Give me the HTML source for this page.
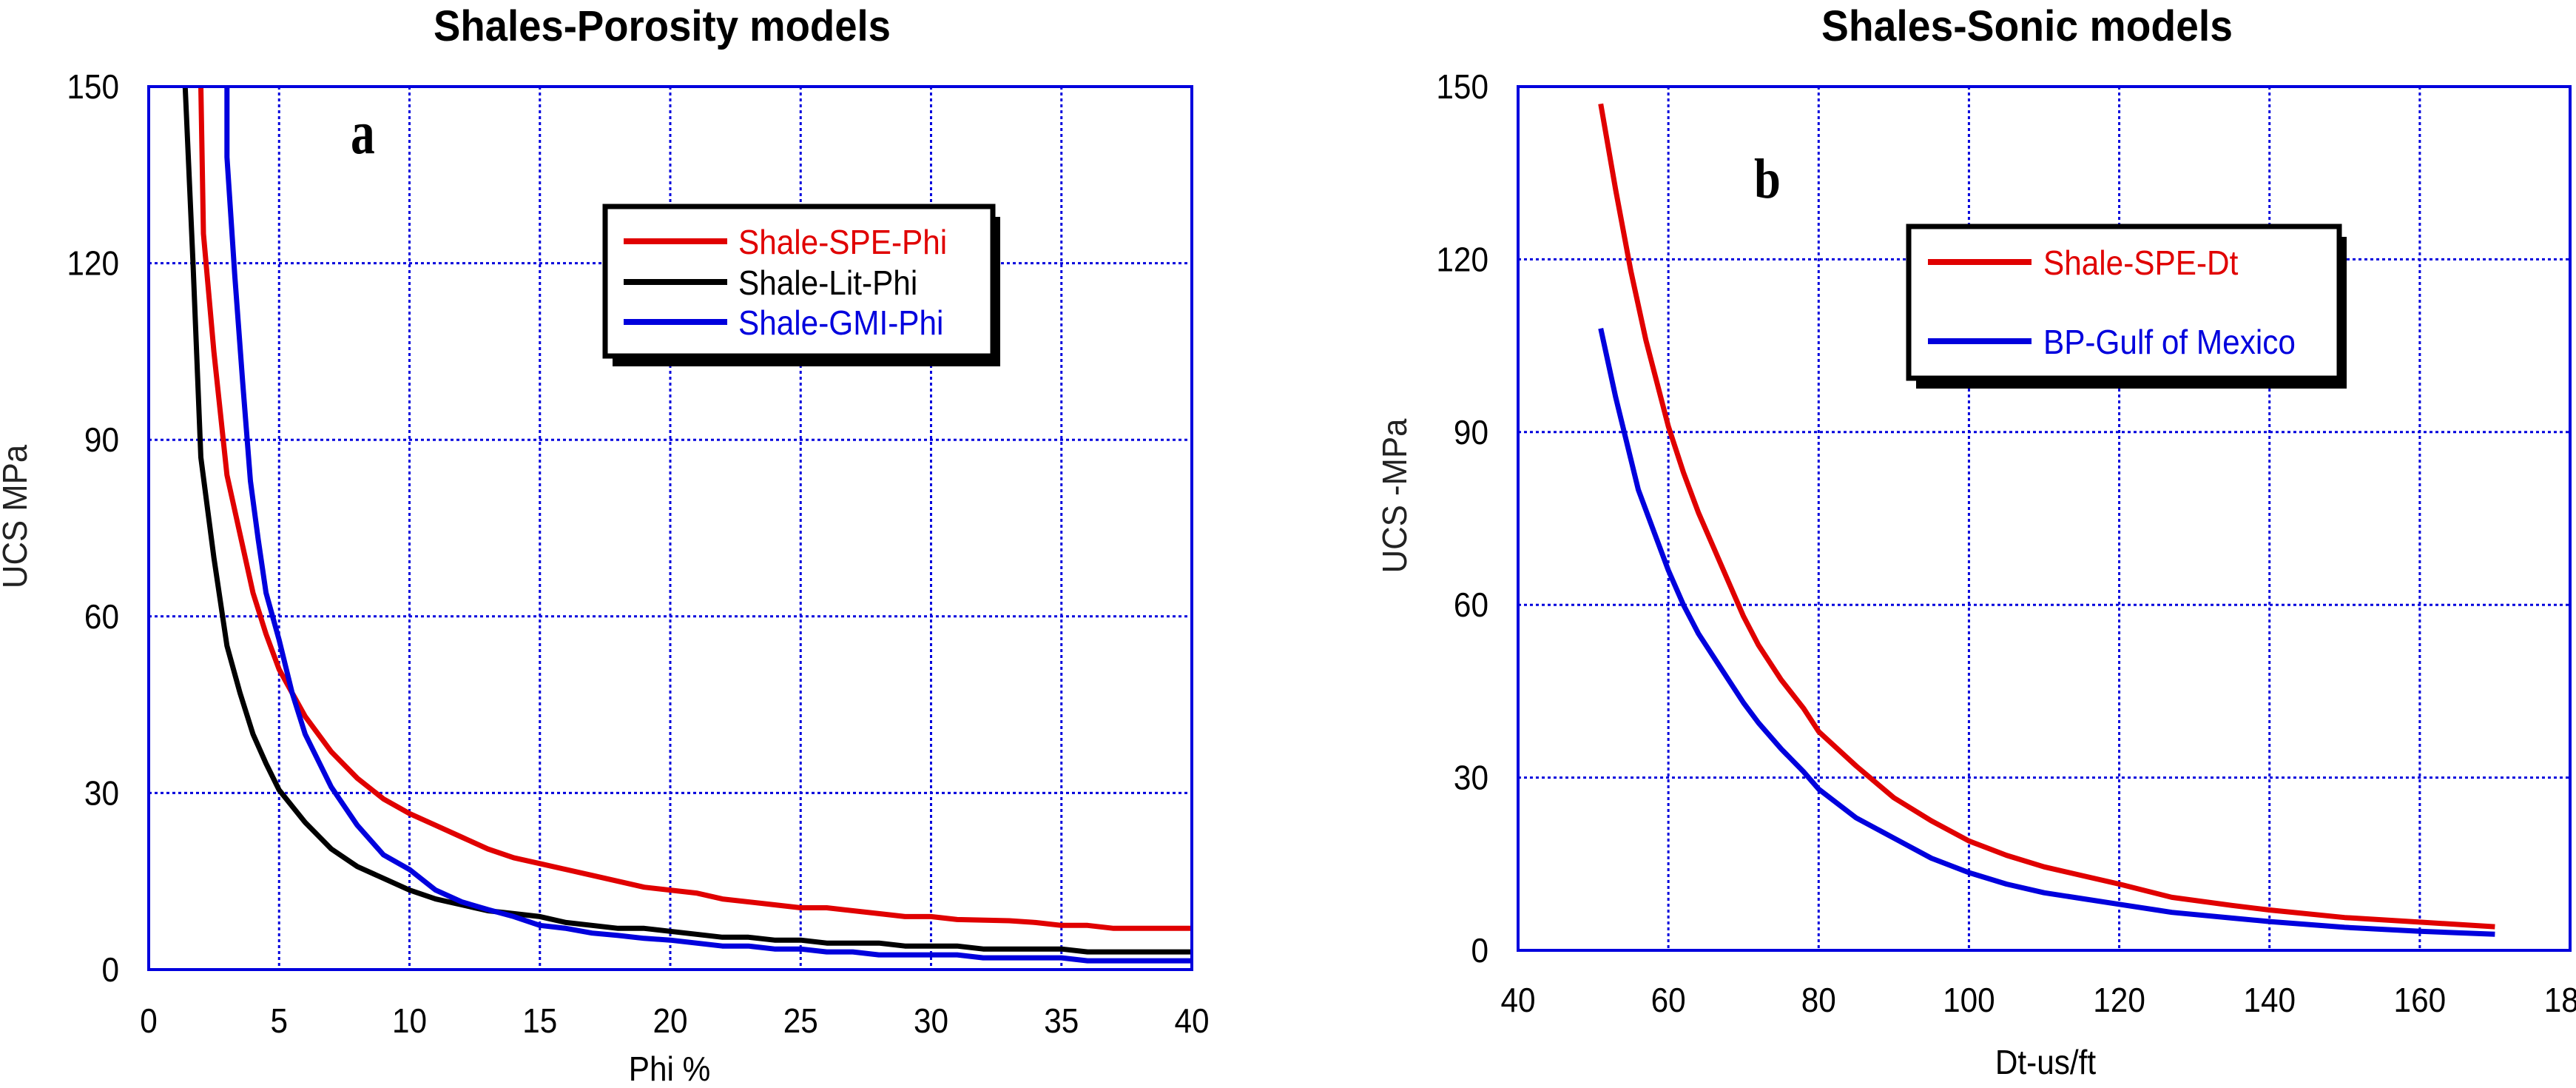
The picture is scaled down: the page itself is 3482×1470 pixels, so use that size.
<!DOCTYPE html>
<html><head><meta charset="utf-8"><style>
html,body{margin:0;padding:0;background:#fff;}
svg{display:block;}
text{font-family:"Liberation Sans",Arial,sans-serif;}
</style></head><body>
<svg id="s" width="3482" height="1470" viewBox="0 0 3482 1470" xmlns="http://www.w3.org/2000/svg">
<rect width="3482" height="1470" fill="#fff"/>
<g id="g"></g>
<text x="586" y="55" font-size="58" font-weight="bold" textLength="618" lengthAdjust="spacingAndGlyphs">Shales-Porosity models</text>
<text x="905" y="1460" font-size="46" text-anchor="middle" transform="translate(905,0) scale(0.92,1) translate(-905,0)">Phi %</text>
<text transform="translate(36,698) rotate(-90) scale(0.95,1)" font-size="46" text-anchor="middle" fill="#222">UCS MPa</text>
<text x="474" y="207" font-size="84" font-weight="bold" transform="translate(474,0) scale(0.78,1) translate(-474,0)" style="font-family:'Liberation Serif',serif">a</text>
<text x="2462" y="55" font-size="58" font-weight="bold" textLength="556" lengthAdjust="spacingAndGlyphs">Shales-Sonic models</text>
<text x="2765" y="1451" font-size="46" text-anchor="middle" transform="translate(2765,0) scale(0.92,1) translate(-2765,0)">Dt-us/ft</text>
<text transform="translate(1901,670) rotate(-90) scale(0.95,1)" font-size="46" text-anchor="middle" fill="#222">UCS -MPa</text>
<text x="2371" y="267" font-size="76" font-weight="bold" transform="translate(2371,0) scale(0.85,1) translate(-2371,0)" style="font-family:'Liberation Serif',serif">b</text>
</svg>
<script>
var NS="http://www.w3.org/2000/svg",g=document.getElementById('g');
function el(t,a,txt){var e=document.createElementNS(NS,t);for(var k in a)e.setAttribute(k,a[k]);if(txt!==undefined)e.textContent=txt;g.appendChild(e);return e;}
function txt(x,y,s,anchor,fill){var e=el('text',{x:x,y:y,'font-size':46,'text-anchor':anchor,fill:fill||'#000',transform:'translate('+x+',0) scale(0.92,1) translate('+(-x)+',0)'},s);return e;}
function chart(x0,x1,y0,y1,xmin,xmax,xstep,ymax,ystep,xlabY,series){
  var X=function(v){return x0+(v-xmin)/(xmax-xmin)*(x1-x0);},Y=function(v){return y1-(v/ymax)*(y1-y0);};
  for(var v=xmin+xstep;v<xmax;v+=xstep)el('line',{x1:X(v),x2:X(v),y1:y0,y2:y1,stroke:'#0000dd','stroke-width':3,'stroke-dasharray':'4,4'});
  for(var v=ystep;v<ymax;v+=ystep)el('line',{x1:x0,x2:x1,y1:Y(v),y2:Y(v),stroke:'#0000dd','stroke-width':3,'stroke-dasharray':'4,4'});
  for(var v=xmin;v<=xmax;v+=xstep)txt(X(v),xlabY,String(v),'middle');
  for(var v=0;v<=ymax;v+=ystep)txt(x0-40,Y(v)+16,String(v),'end');
  series.forEach(function(s){
    var p=s.d.map(function(q){return X(q[0]).toFixed(1)+','+Y(q[1]).toFixed(1)}).join(' ');
    el('polyline',{points:p,fill:'none',stroke:s.c,'stroke-width':7,'stroke-linejoin':'round'});
  });
  el('rect',{x:x0,y:y0,width:x1-x0,height:y1-y0,fill:'none',stroke:'#0000dd','stroke-width':4});
}
chart(201,1611,117,1310,0,40,5,150,30,1395,[
 {c:'#e00000',d:[[2,150],[2.1,125],[2.5,105],[3,84],[3.5,74],[4,64],[4.5,57],[5,51],[6,43],[7,37],[8,32.5],[9,29],[10,26.5],[11,24.5],[12,22.5],[13,20.5],[14,19],[15,18],[17,16],[19,14],[21,13],[22,12],[24,11],[25,10.5],[26,10.5],[28,9.5],[29,9],[30,9],[31,8.5],[33,8.3],[34,8],[35,7.5],[36,7.5],[37,7],[40,7]]},
 {c:'#000',d:[[1.4,150],[1.7,120],[2,87],[2.5,70],[3,55],[3.5,47],[4,40],[4.5,35],[5,30.5],[6,25],[7,20.5],[8,17.5],[9,15.5],[10,13.5],[11,12],[12,11],[13,10],[14,9.5],[15,9],[16,8],[17,7.5],[18,7],[19,7],[20,6.5],[21,6],[22,5.5],[23,5.5],[24,5],[25,5],[26,4.5],[28,4.5],[29,4],[31,4],[32,3.5],[35,3.5],[36,3],[40,3]]},
 {c:'#0000dd',d:[[3,150],[3,138],[3.3,118],[3.6,100],[3.9,83],[4.2,73],[4.5,64],[5,56],[5.5,47],[6,40],[7,31],[8,24.5],[9,19.5],[10,17],[11,13.5],[12,11.5],[13,10.2],[14,9],[15,7.5],[16,7],[17,6.2],[18,5.8],[19,5.3],[20,5],[21,4.5],[22,4],[23,4],[24,3.5],[25,3.5],[26,3],[27,3],[28,2.5],[31,2.5],[32,2],[35,2],[36,1.5],[40,1.5]]}
]);
chart(2052,3474,117,1284,40,180,20,150,30,1367,[
 {c:'#e00000',d:[[51,147],[53,132],[55,118],[57,106],[60,91],[62,83],[64,76],[66,70],[68,64],[70,58],[72,53],[75,47],[78,42],[80,38],[85,32],[90,26.5],[95,22.5],[100,19],[105,16.5],[110,14.5],[115,13],[120,11.5],[127,9.2],[135,7.8],[140,7],[150,5.7],[160,4.9],[170,4.1]]},
 {c:'#0000dd',d:[[51,108],[53,96],[56,80],[58,73],[60,66],[62,60],[64,55],[67,49],[70,43],[72,39.5],[75,35],[78,31],[80,28],[85,23],[90,19.5],[95,16],[100,13.5],[105,11.5],[110,10],[115,9],[120,8],[127,6.6],[135,5.6],[140,5],[150,4],[160,3.3],[170,2.8]]}
]);
function legend(x,y,w,h,lx,tx,items){
  el('rect',{x:x+10,y:y+14,width:w,height:h,fill:'#000'});
  el('rect',{x:x,y:y,width:w,height:h,fill:'#fff',stroke:'#000','stroke-width':7});
  items.forEach(function(it){
    el('line',{x1:lx,x2:lx+140,y1:it.y,y2:it.y,stroke:it.c,'stroke-width':8});
    txt(tx,it.y+17,it.t,'start',it.c);
  });
}
legend(818,279,524,202,843,998,[{c:'#e00000',t:'Shale-SPE-Phi',y:326},{c:'#000',t:'Shale-Lit-Phi',y:381},{c:'#0000dd',t:'Shale-GMI-Phi',y:435}]);
legend(2580,306,582,205,2606,2762,[{c:'#e00000',t:'Shale-SPE-Dt',y:354},{c:'#0000dd',t:'BP-Gulf of Mexico',y:461}]);
</script>
</body></html>
